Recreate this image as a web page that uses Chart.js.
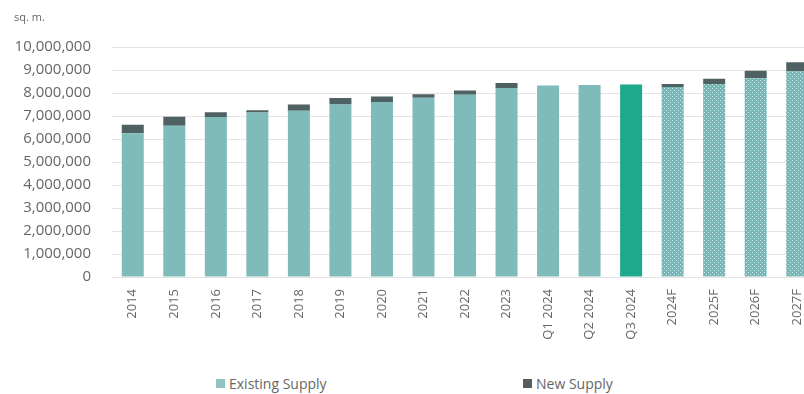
<!DOCTYPE html>
<html>
<head>
<meta charset="utf-8">
<script src="https://cdn.jsdelivr.net/npm/chart.js@4/dist/chart.umd.min.js"></script>
<style>
  html, body { margin: 0; padding: 0; background: #fff; overflow: hidden; width: 804px; height: 394px; }
  #wrap { position: absolute; left: 0; top: 0; width: 818px; height: 352px; }
  #legend { position: absolute; top: 374px; left: 0; width: 804px; height: 20px; font-family: "Open Sans", sans-serif; font-size: 14px; color: #666; }
  .item { position: absolute; top: 0; display: flex; align-items: center; white-space: nowrap; }
  .box { width: 9px; height: 9px; margin-right: 4px; }
</style>
</head>
<body>
<div id="wrap"><canvas id="chart"></canvas></div>
<div id="legend"></div>
<script>
const categories = ["2014", "2015", "2016", "2017", "2018", "2019", "2020", "2021", "2022", "2023",
  "Q1 2024", "Q2 2024", "Q3 2024", "2024F", "2025F", "2026F", "2027F"];
const existingSupply = [6260000, 6580000, 6960000, 7160000, 7230000, 7510000, 7610000, 7800000, 7930000,
  8220000, 8330000, 8350000, 8380000, 8270000, 8400000, 8650000, 8950000];
const newSupply = [360000, 390000, 210000, 100000, 280000, 280000, 240000, 150000, 190000,
  220000, 0, 0, 0, 130000, 230000, 320000, 390000];
const seriesNames = ["Existing Supply", "New Supply"];

const teal = "#7fbbbb";
const tealHighlight = "#1fa98c";
const slate = "#4f6163";

// dotted fill for the forecast bars
function dotPattern() {
  const c = document.createElement("canvas");
  c.width = 4; c.height = 4;
  const x = c.getContext("2d");
  x.fillStyle = "#78b7b7";
  x.fillRect(0, 0, 4, 4);
  x.fillStyle = "#cfe6e5";
  x.fillRect(0, 0, 1, 1);
  x.fillRect(2, 2, 1, 1);
  return x.createPattern(c, "repeat");
}
const dots = dotPattern();

const existingColors = categories.map(c => {
  if (c.endsWith("F")) return dots;
  if (c === "Q3 2024") return tealHighlight;
  return teal;
});

const ctx = document.getElementById("chart").getContext("2d");
const chart = new Chart(ctx, {
  type: "bar",
  data: {
    labels: categories,
    datasets: [
      { label: seriesNames[0], data: existingSupply, backgroundColor: existingColors, legendColor: "#8fc4c3" },
      { label: seriesNames[1], data: newSupply, backgroundColor: slate, legendColor: "#555d5e" }
    ]
  },
  options: {
    responsive: true,
    maintainAspectRatio: false,
    animation: false,
    layout: { padding: { left: 14, right: 0, top: 0, bottom: 5 } },
    datasets: { bar: { categoryPercentage: 1, barPercentage: 0.53 } },
    plugins: {
      legend: { display: false },
      tooltip: { enabled: false },
      title: {
        display: true,
        text: "sq. m.",
        align: "start",
        color: "#666",
        font: { family: "Open Sans", size: 11, weight: "normal" },
        padding: { top: 11, bottom: 23 }
      }
    },
    scales: {
      x: {
        stacked: true,
        grid: { display: false },
        border: { display: false },
        ticks: {
          color: "#666",
          font: { family: "Open Sans", size: 13 },
          minRotation: 90,
          maxRotation: 90,
          padding: 4,
          autoSkip: false
        },
        afterFit: s => { s.height = 70; }
      },
      y: {
        stacked: true,
        min: 0,
        max: 10000000,
        grid: { color: "#e4e4e4", drawTicks: false },
        border: { display: false },
        ticks: {
          stepSize: 1000000,
          color: "#666",
          padding: 21,
          font: { family: "Open Sans", size: 15 },
          callback: v => v.toLocaleString("en-US")
        },
        afterFit: s => { s.width = 98; }
      }
    }
  }
});

// legend under the chart, spaced like the original
const legendPos = [216, 523];
const legend = document.getElementById("legend");
chart.data.datasets.forEach((ds, i) => {
  const item = document.createElement("div");
  item.className = "item";
  item.style.left = legendPos[i] + "px";
  const box = document.createElement("span");
  box.className = "box";
  box.style.background = ds.legendColor;
  const txt = document.createElement("span");
  txt.textContent = ds.label;
  item.appendChild(box);
  item.appendChild(txt);
  legend.appendChild(item);
});
</script>
</body>
</html>
